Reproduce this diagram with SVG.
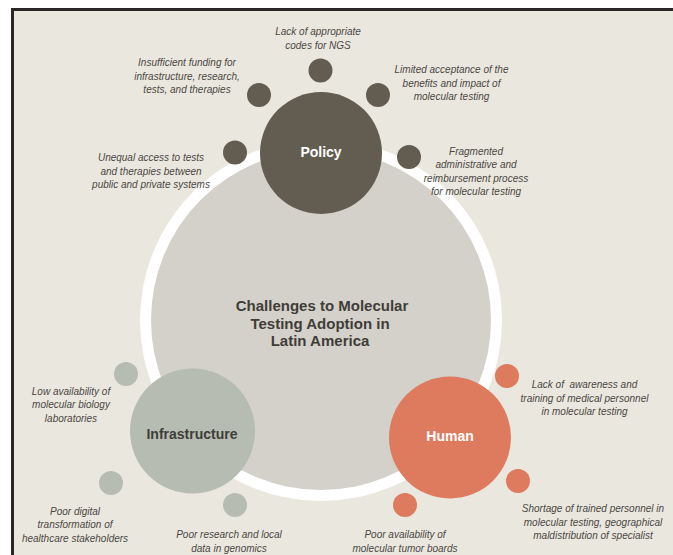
<svg xmlns="http://www.w3.org/2000/svg" width="673" height="555" viewBox="0 0 673 555">
  <style>
    .note { font-family: "Liberation Sans", Arial, sans-serif; font-size: 10px; font-style: italic; fill: #4a4844; text-anchor: middle; }
    .hub { font-family: "Liberation Sans", Arial, sans-serif; font-size: 14px; font-weight: bold; text-anchor: middle; }
    .title { font-family: "Liberation Sans", Arial, sans-serif; font-size: 15px; font-weight: bold; fill: #403d38; text-anchor: middle; }
    .policy { fill: #625d50; }
    .infra { fill: #b6bcb2; }
    .human { fill: #de7a5e; }
  </style>

  <!-- page frame -->
  <rect x="0" y="0" width="673" height="555" fill="#ffffff"/>
  <rect x="12.5" y="9.5" width="670" height="560" fill="#eae7de" stroke="#2a2826" stroke-width="3"/>

  <!-- connectors (none drawn as lines; satellites float around hubs) -->
  <g id="connectors"></g>

  <!-- central theme -->
  <g id="center">
    <circle cx="321" cy="320" r="181" fill="#ffffff"/>
    <circle cx="321" cy="320" r="170" fill="#d4d1ca"/>
    <text class="title" x="322" y="311">Challenges to Molecular</text>
    <text class="title" x="320" y="328.5">Testing Adoption in</text>
    <text class="title" x="320" y="346">Latin America</text>
  </g>

  <!-- Policy -->
  <g id="policy">
    <circle class="policy" cx="321" cy="153" r="61"/>
    <text class="hub" x="321" y="157" fill="#ffffff">Policy</text>
  </g>
  <g id="policy-codes">
    <circle class="policy" cx="320.5" cy="70.5" r="12"/>
    <text class="note" x="318" y="35">Lack of appropriate</text>
    <text class="note" x="318" y="48.5">codes for NGS</text>
  </g>
  <g id="policy-funding">
    <circle class="policy" cx="259" cy="95" r="12"/>
    <text class="note" x="187" y="66">Insufficient funding for</text>
    <text class="note" x="187" y="79.5">infrastructure, research,</text>
    <text class="note" x="187" y="93">tests, and therapies</text>
  </g>
  <g id="policy-acceptance">
    <circle class="policy" cx="378" cy="95" r="12"/>
    <text class="note" x="451.5" y="73">Limited acceptance of the</text>
    <text class="note" x="451.5" y="86.5">benefits and impact of</text>
    <text class="note" x="451.5" y="100">molecular testing</text>
  </g>
  <g id="policy-access">
    <circle class="policy" cx="235" cy="152.5" r="12"/>
    <text class="note" x="151" y="161">Unequal access to tests</text>
    <text class="note" x="151" y="174.5">and therapies between</text>
    <text class="note" x="151" y="188">public and private systems</text>
  </g>
  <g id="policy-reimbursement">
    <circle class="policy" cx="409" cy="157" r="12"/>
    <text class="note" x="476" y="154.5">Fragmented</text>
    <text class="note" x="476" y="168">administrative and</text>
    <text class="note" x="476" y="181.5">reimbursement process</text>
    <text class="note" x="476" y="195">for molecular testing</text>
  </g>

  <!-- Infrastructure -->
  <g id="infrastructure">
    <circle class="infra" cx="192.5" cy="431" r="62.5"/>
    <text class="hub" x="192" y="438.5" fill="#403d38">Infrastructure</text>
  </g>
  <g id="infra-labs">
    <circle class="infra" cx="126" cy="374" r="12"/>
    <text class="note" x="71" y="394.5">Low availability of</text>
    <text class="note" x="71" y="408">molecular biology</text>
    <text class="note" x="71" y="421.5">laboratories</text>
  </g>
  <g id="infra-digital">
    <circle class="infra" cx="111" cy="483" r="12"/>
    <text class="note" x="75" y="514.5">Poor digital</text>
    <text class="note" x="75" y="528">transformation of</text>
    <text class="note" x="75" y="541.5">healthcare stakeholders</text>
  </g>
  <g id="infra-genomics">
    <circle class="infra" cx="235" cy="505" r="12"/>
    <text class="note" x="229" y="538">Poor research and local</text>
    <text class="note" x="229" y="551.5">data in genomics</text>
  </g>

  <!-- Human -->
  <g id="human">
    <circle class="human" cx="450" cy="437.5" r="61"/>
    <text class="hub" x="450" y="441" fill="#ffffff">Human</text>
  </g>
  <g id="human-awareness">
    <circle class="human" cx="507" cy="376" r="12"/>
    <text class="note" x="584.5" y="388" xml:space="preserve">Lack of  awareness and</text>
    <text class="note" x="584.5" y="401.5">training of medical personnel</text>
    <text class="note" x="584.5" y="415">in molecular testing</text>
  </g>
  <g id="human-shortage">
    <circle class="human" cx="518" cy="481" r="12"/>
    <text class="note" x="593" y="512">Shortage of trained personnel in</text>
    <text class="note" x="593" y="525.5">molecular testing, geographical</text>
    <text class="note" x="593" y="539">maldistribution of specialist</text>
  </g>
  <g id="human-boards">
    <circle class="human" cx="405" cy="505" r="12"/>
    <text class="note" x="405" y="538">Poor availability of</text>
    <text class="note" x="405" y="551.5">molecular tumor boards</text>
  </g>
</svg>
